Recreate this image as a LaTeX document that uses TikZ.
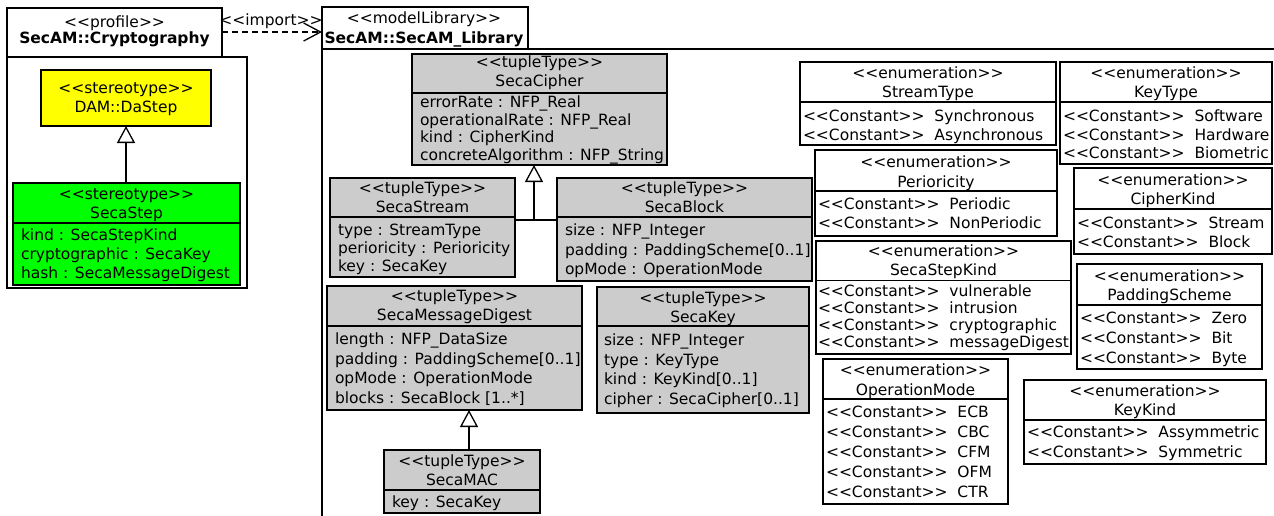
\documentclass[tikz,border=0pt]{standalone}
\usepackage{fontspec}
\setmainfont{DejaVu Sans}
\usetikzlibrary{arrows.meta}

\definecolor{clsgray}{RGB}{204,204,204}
\definecolor{styellow}{RGB}{255,255,0}
\definecolor{stgreen}{RGB}{0,255,0}

% guillemet-free stereotype brackets
\newcommand\stereo[1]{<\kern0pt<#1>\kern0pt>}
\newcommand\cst{\stereo{Constant}\ \ }
\newcommand\umlsize{\fontsize{15.5}{18}\selectfont}

% box of a classifier with its compartment line: [style]{name}{x1}{y1}{x2}{y2}{divider y}
\newcommand\classbox[7][]{%
  \node[clsbox,#1,minimum width={(#5-#3)*1pt},minimum height={(#6-#4)*1pt},anchor=north west] (#2) at (#3,#4) {};
  \draw[clsline] (#2.west |- 0,#7) -- (#2.east |- 0,#7);}
% two centred heading lines: {name}{centre x}{y1}{y2}{stereotype}{name text}
\newcommand\heading[6]{%
  \node[txt,anchor=base] (#1-st) at (#2,{#3+5.5}) {#5};
  \node[txt,anchor=base] (#1-nm) at (#2,{#4+5.5}) {#6};}
% left-aligned compartment lines: {name}{x}{first y}{step}{list}
\newcommand\items[5]{%
  \foreach \itm [count=\k] in {#5} {\node[txt,anchor=base west] (#1-\k) at (#2,{#3+5.8+(\k-1)*#4}) {\itm};}}

\begin{document}
\begin{tikzpicture}[x=1pt,y=-1pt,
  clsbox/.style={draw=black,line width=1.3pt,inner sep=0pt,outer sep=0pt},
  clsline/.style={draw=black,line width=1.3pt},
  pkg/.style={draw=black,line width=1.3pt,fill=white,inner sep=0pt,outer sep=0pt},
  pkgline/.style={draw=black,line width=1.3pt},
  txt/.style={inner sep=0pt,outer sep=0pt,font=\umlsize},
  gen/.style={draw=black,line width=1.3pt,-{Triangle[open,length=17pt,width=18pt,line width=1.3pt]}},
  assoc/.style={draw=black,line width=1.3pt},
  dep/.style={draw=black,line width=1.3pt,dash pattern=on 6pt off 4pt,-{Straight Barb[length=17pt,width=18pt,line width=1.3pt]}}]

\fill[white] (0,0) rectangle (1274,515);
\useasboundingbox (0,0) rectangle (1274,515);

% ---------------- profile SecAM::Cryptography ----------------
\node[pkg,minimum width=240pt,minimum height=231pt,anchor=north west] (profbody) at (7,57) {};
\node[pkg,minimum width=215pt,minimum height=49pt,anchor=north west] (proftab) at (7,8) {};
\node[txt,anchor=base] (proftab-st) at (114.5,27.5) {\stereo{profile}};
\node[txt,anchor=base,font=\umlsize\bfseries] (proftab-nm) at (114.5,43.5) {SecAM::Cryptography};

\classbox[fill=styellow]{dastep}{41}{70}{211}{126}{126}
\heading{dastep}{126}{88}{107}{\stereo{stereotype}}{DAM::DaStep}

\classbox[fill=stgreen]{secastep}{13}{183}{240}{285}{223}
\heading{secastep}{126.5}{194}{213}{\stereo{stereotype}}{SecaStep}
\items{secastep}{21}{235}{19}{kind : SecaStepKind, cryptographic : SecaKey, hash : SecaMessageDigest}

\draw[gen] (dastep.south |- secastep.north) -- (dastep.south);

% ---------------- model library SecAM::SecAM_Library ----------------
\node[pkg,minimum width=206pt,minimum height=42pt,anchor=north west] (libtab) at (322,7) {};
\node[txt,anchor=base] (libtab-st) at (424,23.5) {\stereo{modelLibrary}};
\node[txt,anchor=base,font=\umlsize\bfseries] (libtab-nm) at (424,43) {SecAM::SecAM\_Library};
\draw[pkgline] (libtab.south west) -- (1275,49);
\draw[pkgline] (libtab.south west) -- (322,516);

% import dependency
\coordinate (imp) at (0,32);
\draw[dep] (proftab.east |- imp) -- (libtab.west |- imp);
\node[txt,anchor=base] (implbl) at (271,25.5) {\stereo{import}};

% tuple types
\classbox[fill=clsgray]{cipher}{412}{54}{667}{165}{93}
\heading{cipher}{539.5}{62}{81}{\stereo{tupleType}}{SecaCipher}
\items{cipher}{420}{102}{17.5}{errorRate : NFP\_Real, operationalRate : NFP\_Real, kind : CipherKind, concreteAlgorithm : NFP\_String}

\classbox[fill=clsgray]{stream}{330}{178}{515}{277}{217}
\heading{stream}{422.5}{188}{207}{\stereo{tupleType}}{SecaStream}
\items{stream}{338}{230}{18}{type : StreamType, perioricity : Perioricity, key : SecaKey}

\classbox[fill=clsgray]{block}{557}{178}{812}{281}{217}
\heading{block}{684.5}{188}{207}{\stereo{tupleType}}{SecaBlock}
\items{block}{565}{230}{19.5}{size : NFP\_Integer, padding : PaddingScheme[0..1], opMode : OperationMode}

\classbox[fill=clsgray]{digest}{327}{286}{582}{410}{326}
\heading{digest}{454.5}{296}{315}{\stereo{tupleType}}{SecaMessageDigest}
\items{digest}{335}{339}{19.5}{length : NFP\_DataSize, padding : PaddingScheme[0..1], opMode : OperationMode, blocks : SecaBlock [1..*]}

\classbox[fill=clsgray]{mac}{384}{450}{540}{513}{490}
\heading{mac}{462}{461}{480}{\stereo{tupleType}}{SecaMAC}
\items{mac}{392}{502}{0}{key : SecaKey}

\classbox[fill=clsgray]{key}{597}{287}{809}{413}{326}
\heading{key}{703}{298}{316.5}{\stereo{tupleType}}{SecaKey}
\items{key}{604}{340}{19.5}{size : NFP\_Integer, type : KeyType, kind : KeyKind[0..1], cipher : SecaCipher[0..1]}

% generalizations
\coordinate (join) at (534,220);
\draw[assoc] (stream.east |- join) -- (block.west |- join);
\draw[gen] (join) -- (join |- cipher.south);
\coordinate (macj) at (469,450);
\draw[gen] (macj |- mac.north) -- (macj |- digest.south);

% enumerations
\classbox[fill=white]{streamtype}{800}{62}{1056}{145}{102}
\heading{streamtype}{928}{73}{92}{\stereo{enumeration}}{StreamType}
\items{streamtype}{803}{116}{18.5}{\cst Synchronous, \cst Asynchronous}

\classbox[fill=white]{keytype}{1060}{62}{1272}{164}{102}
\heading{keytype}{1166}{73}{92}{\stereo{enumeration}}{KeyType}
\items{keytype}{1063}{116}{18.5}{\cst Software, \cst Hardware, \cst Biometric}

\classbox[fill=white]{perioricity}{815}{150}{1057}{236}{191}
\heading{perioricity}{936}{162}{181.5}{\stereo{enumeration}}{Perioricity}
\items{perioricity}{818}{204}{19}{\cst Periodic, \cst NonPeriodic}

\classbox[fill=white]{cipherkind}{1074}{168}{1272}{254}{209}
\heading{cipherkind}{1173}{180}{198.5}{\stereo{enumeration}}{CipherKind}
\items{cipherkind}{1077}{222.5}{19.5}{\cst Stream, \cst Block}

\classbox[fill=white]{stepkind}{816}{241}{1071}{354}{280.5}
\heading{stepkind}{943.5}{251}{270}{\stereo{enumeration}}{SecaStepKind}
\items{stepkind}{818}{290.5}{17}{\cst vulnerable, \cst intrusion, \cst cryptographic, \cst messageDigest}

\classbox[fill=white]{opmode}{823}{359}{1008}{504}{399}
\heading{opmode}{915.5}{370}{390}{\stereo{enumeration}}{OperationMode}
\items{opmode}{826}{411.5}{20}{\cst ECB, \cst CBC, \cst CFM, \cst OFM, \cst CTR}

\classbox[fill=white]{padding}{1077}{264}{1262}{369}{305}
\heading{padding}{1169.5}{275.5}{294.5}{\stereo{enumeration}}{PaddingScheme}
\items{padding}{1080}{318}{20}{\cst Zero, \cst Bit, \cst Byte}

\classbox[fill=white]{keykind}{1024}{380}{1266}{464}{420}
\heading{keykind}{1145}{391}{410}{\stereo{enumeration}}{KeyKind}
\items{keykind}{1027}{432}{20}{\cst Assymmetric, \cst Symmetric}

\end{tikzpicture}
\end{document}
